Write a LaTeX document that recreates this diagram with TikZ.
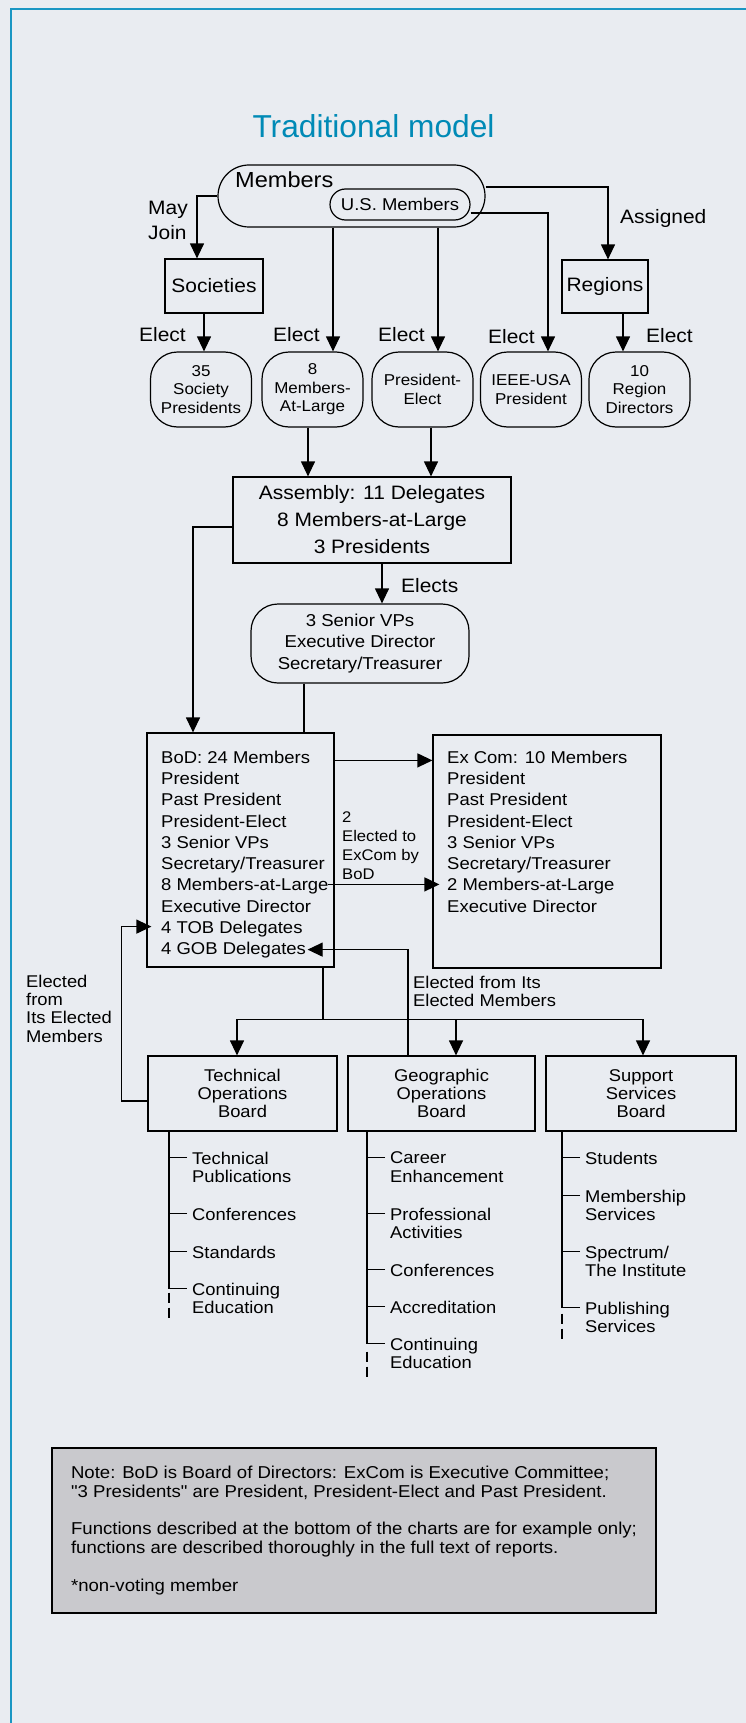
\documentclass[tikz,border=0pt]{standalone}
\usepackage{fontspec}
\setmainfont[FakeStretch=1.08, Ligatures=TeXOff]{Liberation Sans}
\newfontfamily\titlefont{Liberation Sans}
\usepackage{tikz}
\usetikzlibrary{positioning,arrows.meta}
\definecolor{paper}{RGB}{233,236,241}
\definecolor{frameblue}{RGB}{25,150,195}
\definecolor{titleblue}{RGB}{0,138,182}
\definecolor{notegray}{RGB}{201,201,205}
\tikzstyle{box}   = [rectangle, draw, line width=1.2pt, inner sep=0pt, align=center]
\tikzstyle{pill}  = [rectangle, draw, line width=1.2pt, rounded corners=27pt, inner sep=0pt, align=center,
                     minimum width=101pt, minimum height=75pt, font=\fontsize{15.7}{18.5}\selectfont]
\tikzstyle{lbl}   = [inner sep=0pt, align=left, font=\fontsize{19.4}{25}\selectfont]
\tikzstyle{note}  = [inner sep=0pt, align=left, font=\fontsize{17}{18.3}\selectfont]
\tikzstyle{board} = [box, minimum width=189pt, minimum height=75pt, font=\fontsize{17}{18.3}\selectfont]
\tikzstyle{item}  = [inner xsep=5pt, inner ysep=0pt, align=left, anchor=north west,
                     font=\fontsize{17}{18.5}\selectfont]
\tikzstyle{arrow} = [draw, line width=1.2pt, -{Triangle[length=15pt,width=14pt]}]
\tikzstyle{wire}  = [draw, line width=1.2pt]
\tikzstyle{trail} = [draw, line width=1.2pt, dash pattern=on 10pt off 5pt]

\begin{document}
\begin{tikzpicture}[x=1pt, y=-1pt]
	\fill[paper] (0,0) rectangle (746,1723);
	\useasboundingbox (0,0) rectangle (746,1723);
	\draw[frameblue, line width=2.5pt] (11,1723) -- (11,9) -- (746,9);

	\node[anchor=base, inner sep=0pt, text=titleblue, font=\titlefont\fontsize{31.7}{36}\selectfont] (title) at (373.5,138) {Traditional model};

	\node[pill, rounded corners=31pt, minimum width=267pt, minimum height=62pt] (members) at (351.5,196) {};
	\node[lbl, anchor=base west, font=\fontsize{21.8}{24}\selectfont] (memberslbl) at (235,188) {Members};
	\node[pill, rounded corners=15.5pt, minimum width=140pt, minimum height=31pt, font=\fontsize{17.1}{19}\selectfont] (usmembers) at (400,204.5) {U.S. Members};

	\node[box, minimum width=98pt, minimum height=54pt, font=\fontsize{19.4}{22}\selectfont] (societies) at (214,286) {Societies};
	\node[box, minimum width=86pt, minimum height=53pt, font=\fontsize{19.4}{22}\selectfont] (regions) at (605,286.5) {Regions};
	\node[lbl, anchor=north west] (mayjoin) at (148,201) {May\\Join};
	\node[lbl, anchor=base west] (assigned) at (620,223) {Assigned};

	\node[pill] (socpres) at (201,389.5) {35\\Society\\Presidents};
	\node[pill] (mal) at (312.5,389.5) {8\\Members-\\At-Large};
	\node[pill] (pe) at (422.5,389.5) {President-\\Elect};
	\node[pill] (usa) at (531,389.5) {IEEE-USA\\President};
	\node[pill] (regdir) at (639.5,389.5) {10\\Region\\Directors};
	\node[lbl, anchor=base west] (elect1) at (139,341) {Elect};
	\node[lbl, anchor=base west] (elect2) at (273,341) {Elect};
	\node[lbl, anchor=base west] (elect3) at (378,341) {Elect};
	\node[lbl, anchor=base west] (elect4) at (488,343) {Elect};
	\node[lbl, anchor=base west] (elect5) at (646,342) {Elect};

	\node[box, minimum width=278pt, minimum height=86pt, font=\fontsize{19.4}{27}\selectfont] (assembly) at (372,520) {Assembly: 11 Delegates\\8 Members-at-Large\\3 Presidents};
	\node[lbl, anchor=base west] (elects) at (401,592) {Elects};
	\node[pill, minimum width=218pt, minimum height=79pt, font=\fontsize{17.2}{21.5}\selectfont] (senior) at (360,643.5) {3 Senior VPs\\Executive Director\\Secretary/Treasurer};

	\node[box, minimum width=187pt, minimum height=234pt] (bod) at (240.5,850) {};
	\node[note, anchor=north west, font=\fontsize{17.1}{21.3}\selectfont] (bodlist) at (161,750.5) {BoD: 24 Members\\President\\Past President\\President-Elect\\3 Senior VPs\\Secretary/Treasurer\\8 Members-at-Large\\Executive Director\\4 TOB Delegates\\4 GOB Delegates};
	\node[box, minimum width=228pt, minimum height=233pt] (excom) at (547,851.5) {};
	\node[note, anchor=north west, font=\fontsize{17.1}{21.3}\selectfont] (excomlist) at (447,750.5) {Ex Com: 10 Members\\President\\Past President\\President-Elect\\3 Senior VPs\\Secretary/Treasurer\\2 Members-at-Large\\Executive Director};
	\node[note, anchor=north west, font=\fontsize{15.4}{18.7}\selectfont] (twoelected) at (342,812) {2\\Elected to\\ExCom by\\BoD};
	\node[note, anchor=north west, font=\fontsize{17}{18}\selectfont] (fromits) at (413,975.6) {Elected from Its\\Elected Members};
	\node[note, anchor=north west] (fromleft) at (26,974.6) {Elected\\from\\Its Elected\\Members};

	\node[board] (tob) at (242.5,1093.5) {Technical\\Operations\\Board};
	\node[board, minimum width=187pt] (gob) at (441.5,1093.5) {Geographic\\Operations\\Board};
	\node[board, minimum width=190pt] (ssb) at (641,1093.5) {Support\\Services\\Board};

	\node[item] (tobA) at (187,1151.6) {Technical\\Publications};
	\node[item] (tobB) at (187,1207.6) {Conferences};
	\node[item] (tobC) at (187,1245.6) {Standards};
	\node[item] (tobD) at (187,1282.6) {Continuing\\Education};
	\node[item] (gobA) at (385,1151.6) {Career\\Enhancement};
	\node[item] (gobB) at (385,1207.6) {Professional\\Activities};
	\node[item] (gobC) at (385,1263.6) {Conferences};
	\node[item] (gobD) at (385,1300.6) {Accreditation};
	\node[item] (gobE) at (385,1337.6) {Continuing\\Education};
	\node[item] (ssbA) at (580,1151.6) {Students};
	\node[item] (ssbB) at (580,1189.6) {Membership\\Services};
	\node[item] (ssbC) at (580,1245.6) {Spectrum/\\The Institute};
	\node[item] (ssbD) at (580,1301.6) {Publishing\\Services};

	\node[draw, line width=2.5pt, fill=notegray, minimum width=604pt, minimum height=165pt, align=left,
	      font=\fontsize{17.2}{18.8}\selectfont] (notebox) at (354,1530.5)
	      {Note: BoD is Board of Directors: ExCom is Executive Committee;\\"3 Presidents" are President, President-Elect and Past President.\\[19pt]Functions described at the bottom of the charts are for example only;\\functions are described thoroughly in the full text of reports.\\[19pt]*non-voting member};

	\draw[arrow] (members.west) -| ([xshift=-17pt]societies.north);
	\draw[arrow] ([xshift=20.5pt]mal.north |- members.south) -- ([xshift=20.5pt]mal.north);
	\draw[arrow] ([xshift=15.5pt]pe.north |- members.south) -- ([xshift=15.5pt]pe.north);
	\draw[arrow] ([yshift=9pt]members.east) -| ([xshift=3pt]regions.north);
	\draw[arrow] ([yshift=-8.5pt]usmembers.east) -| ([xshift=17pt]usa.north);
	\draw[arrow] ([xshift=3pt]socpres.north |- societies.south) -- ([xshift=3pt]socpres.north);
	\draw[arrow] ([xshift=-16.5pt]regdir.north |- regions.south) -- ([xshift=-16.5pt]regdir.north);
	\draw[arrow] ([xshift=-4.5pt]mal.south) -- ([xshift=-4.5pt]mal.south |- assembly.north);
	\draw[arrow] ([xshift=8.5pt]pe.south) -- ([xshift=8.5pt]pe.south |- assembly.north);
	\draw[arrow] ([xshift=10pt]assembly.south) -- ([xshift=10pt]assembly.south |- senior.north);
	\draw[arrow] ([yshift=-7pt]assembly.west) -| ([xshift=-47.5pt]bod.north);
	\draw[wire] ([xshift=-56pt]senior.south) -- ([xshift=-56pt]senior.south |- bod.north);
	\draw[arrow] ([yshift=-28pt]bod.north east) -- ([yshift=-28pt]bod.north east -| excom.west);
	\draw[arrow] ([xshift=-7pt,yshift=-152pt]bod.north east) -- ([xshift=7pt,yshift=-152pt]bod.north east -| excom.west);
	\draw[arrow] ([yshift=-7.5pt]tob.west) -| ([xshift=-25pt,yshift=41pt]bod.south west) -- ([xshift=5pt,yshift=41pt]bod.south west);
	\draw[arrow] ([xshift=-33.5pt]gob.north) |- ([xshift=-27pt,yshift=18pt]bod.south east);
	\draw[wire] ([xshift=82.5pt]bod.south) -- ++(0,52) coordinate (split);
	\draw[arrow] (split) -| ([xshift=-5.5pt]tob.north);
	\draw[arrow] (split) -| ([xshift=14.5pt]gob.north);
	\draw[arrow] (split) -| ([xshift=2pt]ssb.north);

	\draw[wire] ([xshift=-18pt]tobA.west |- tob.south) |- ([yshift=-6pt]tobD.north west);
	\foreach \n in {tobA,tobB,tobC} {\draw[wire] ([yshift=-6pt]\n.north west) --++(left:18pt);}
	\draw[trail] ([xshift=-18pt,yshift=-10pt]tobD.north west) --++(down:29pt);
	\draw[wire] ([xshift=-18pt]gobA.west |- gob.south) |- ([yshift=-6pt]gobE.north west);
	\foreach \n in {gobA,gobB,gobC,gobD} {\draw[wire] ([yshift=-6pt]\n.north west) --++(left:18pt);}
	\draw[trail] ([xshift=-18pt,yshift=-14pt]gobE.north west) --++(down:28pt);
	\draw[wire] ([xshift=-18pt]ssbA.west |- ssb.south) |- ([yshift=-6pt]ssbD.north west);
	\foreach \n in {ssbA,ssbB,ssbC} {\draw[wire] ([yshift=-6pt]\n.north west) --++(left:18pt);}
	\draw[trail] ([xshift=-18pt,yshift=-12pt]ssbD.north west) --++(down:28pt);
\end{tikzpicture}
\end{document}
